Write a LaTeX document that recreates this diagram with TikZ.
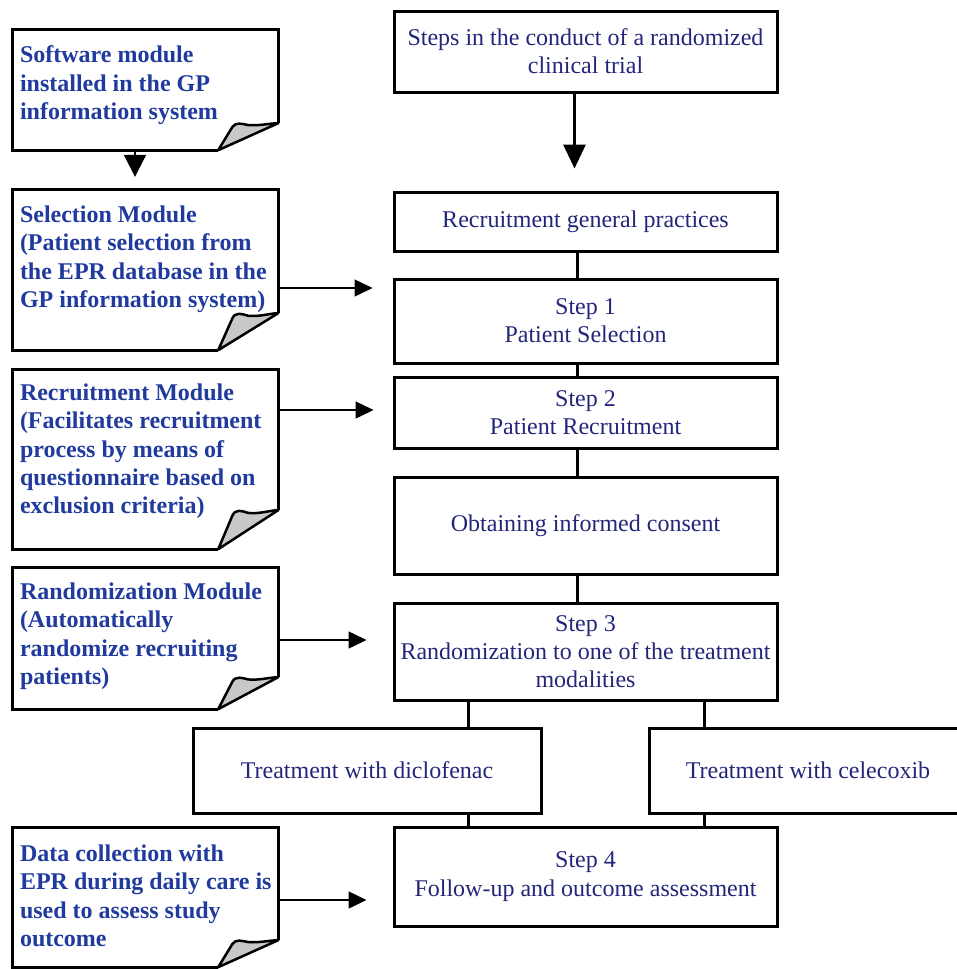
\documentclass[tikz,border=0pt]{standalone}
\usepackage{fontspec}
\setmainfont{Liberation Serif}
\usetikzlibrary{arrows.meta,calc}
\definecolor{notetxt}{RGB}{32,58,158}
\definecolor{boxtxt}{RGB}{35,38,120}
\definecolor{foldgray}{RGB}{200,200,200}
\newcommand\foldnote[2]{%
 \pgfmathsetmacro\fa{0.85*#2}\pgfmathsetmacro\fb{1.05*#2}\pgfmathsetmacro\fc{0.98*#2}%
 \pgfmathsetmacro\fd{0.93*#2}\pgfmathsetmacro\fe{0.9*#2}%
 \coordinate (#1-A) at ([xshift=-60pt]#1.south east);
 \coordinate (#1-E) at ([yshift=#2pt]#1.south east);
 \draw[noteline] (#1-A) -- (#1.south west) -- (#1.north west) -- (#1.north east) -- (#1-E);
 \draw[curl] (#1-A) -- ($(#1-A)+(14pt,\fa pt)$) .. controls ($(#1-A)+(17pt,\fb pt)$) and ($(#1-A)+(24pt,\fc pt)$) .. ($(#1-A)+(30pt,\fd pt)$) .. controls ($(#1-A)+(42pt,\fe pt)$) and ($(#1-A)+(52pt,#2pt)$) .. (#1-E) -- cycle;
}
\begin{document}
\begin{tikzpicture}[x=1pt,y=-1pt,
  stepbox/.style={draw,line width=3pt,rectangle,minimum width=383pt,text=boxtxt,align=center,
    font=\fontsize{24}{28.3}\selectfont,inner sep=0pt},
  notebox/.style={rectangle,minimum width=265pt,inner sep=0pt,draw=none},
  notetext/.style={anchor=north west,text=notetxt,align=left,inner sep=0pt,
    font=\bfseries\fontsize{24}{28.3}\selectfont},
  noteline/.style={line width=3pt,line join=miter},
  curl/.style={line width=2.5pt,fill=foldgray,line join=round},
  conn/.style={line width=3pt},
  harrow/.style={line width=1.5pt,-{Triangle[length=18pt,width=17pt]}},
  varrow/.style={line width=2pt,-{Triangle[length=22pt,width=22pt]}},
  bigarrow/.style={line width=3pt,-{Triangle[length=24pt,width=22pt]}}]
\useasboundingbox (0,0) rectangle (957,969);
\clip (0,0) rectangle (957,969);

% right column
\node[stepbox,minimum height=81pt] (steps) at (585.5,51.5) {Steps in the conduct of a randomized\\clinical trial};
\node[stepbox,minimum height=59pt] (rgp) at (585.5,221.5) {Recruitment general practices};
\node[stepbox,minimum height=84pt] (s1) at (585.5,321) {Step 1\\Patient Selection};
\node[stepbox,minimum height=71pt] (s2) at (585.5,412.5) {Step 2\\Patient Recruitment};
\node[stepbox,minimum height=97pt] (cons) at (585.5,525.5) {Obtaining informed consent};
\node[stepbox,minimum height=97pt] (s3) at (585.5,651.5) {Step 3\\Randomization to one of the treatment\\modalities};
\node[stepbox,minimum width=348pt,minimum height=85pt] (dic) at (367,770.5) {Treatment with diclofenac};
\node[stepbox,minimum width=318pt,minimum height=85pt] (cel) at (808,770.5) {Treatment with celecoxib};
\node[stepbox,minimum height=99pt] (s4) at (585.5,876.5) {Step 4\\Follow-up and outcome assessment};

\draw[bigarrow,shorten >=22pt] ([xshift=-11pt]steps.south) -- ([xshift=-11pt]rgp.north);
\draw[conn] ([xshift=-8.5pt]rgp.south) -- ([xshift=-8.5pt]s1.north);
\draw[conn] ([xshift=-8.5pt]s1.south) -- ([xshift=-8.5pt]s2.north);
\draw[conn] ([xshift=-8.5pt]s2.south) -- ([xshift=-8.5pt]cons.north);
\draw[conn] ([xshift=-8.5pt]cons.south) -- ([xshift=-8.5pt]s3.north);
\draw[conn] (s3.south -| 468,0) -- (dic.north -| 468,0);
\draw[conn] (s3.south -| 704,0) -- (cel.north -| 704,0);
\draw[conn] (dic.south -| 468,0) -- (s4.north -| 468,0);
\draw[conn] (cel.south -| 704,0) -- (s4.north -| 704,0);

% left column notes
\node[notebox,minimum height=120pt] (sw) at (145.5,90) {};
\node[notebox,minimum height=160pt] (sel) at (145.5,270) {};
\node[notebox,minimum height=179pt] (rec) at (145.5,459.5) {};
\node[notebox,minimum height=141pt] (ran) at (145.5,638.5) {};
\node[notebox,minimum height=139pt] (dat) at (145.5,897.5) {};
\foldnote{sw}{27}
\foldnote{sel}{37}
\foldnote{rec}{39}
\foldnote{ran}{32}
\foldnote{dat}{27}

\node[notetext] (swt) at ([xshift=7pt,yshift=-16pt]sw.north west) {Software module\\installed in the GP\\information system};
\node[notetext] (selt) at ([xshift=7pt,yshift=-16pt]sel.north west) {Selection Module\\(Patient selection from\\the EPR database in the\\GP information system)};
\node[notetext] (rect) at ([xshift=7pt,yshift=-14pt]rec.north west) {Recruitment Module\\(Facilitates recruitment\\process by means of\\questionnaire based on\\exclusion criteria)};
\node[notetext] (rant) at ([xshift=7pt,yshift=-15pt]ran.north west) {Randomization Module\\(Automatically\\randomize recruiting\\patients)};
\node[notetext] (datt) at ([xshift=7pt,yshift=-17pt]dat.north west) {Data collection with\\EPR during daily care is\\used to assess study\\outcome};

% arrows from notes
\draw[varrow,shorten >=13pt] ([xshift=-10.5pt]sw.south) -- ([xshift=-10.5pt]sel.north);
\draw[harrow,shorten >=20pt] (sel.east |- 0,288) -- (s1.west |- 0,288);
\draw[harrow,shorten >=19pt] (rec.east |- 0,410) -- (s2.west |- 0,410);
\draw[harrow,shorten >=26pt] (ran.east |- 0,640) -- (s3.west |- 0,640);
\draw[harrow,shorten >=26pt] (dat.east |- 0,900) -- (s4.west |- 0,900);
\end{tikzpicture}
\end{document}
